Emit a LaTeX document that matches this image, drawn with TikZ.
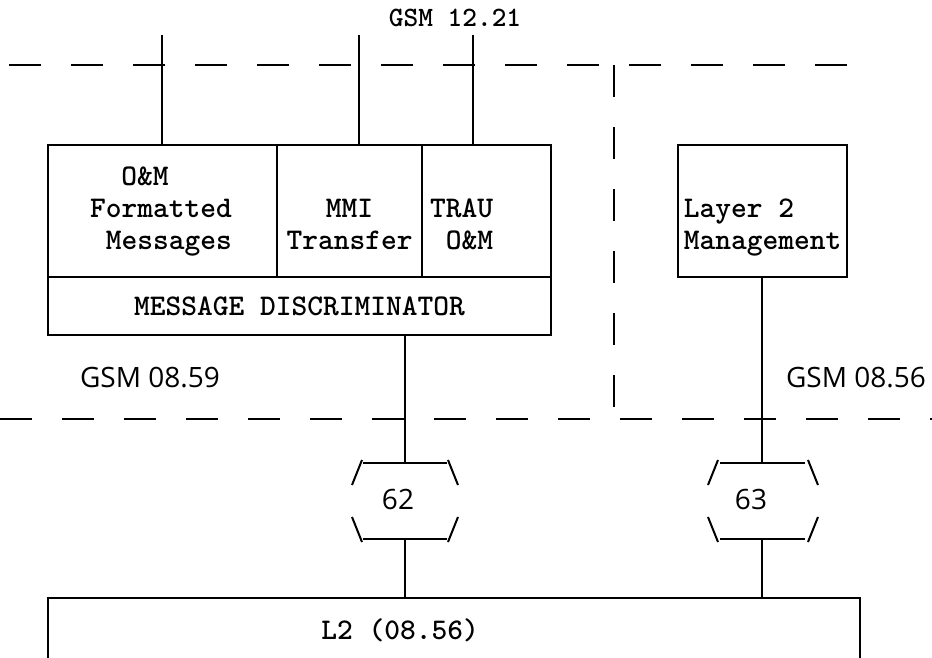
\documentclass[tikz,border=0pt]{standalone}
\usepackage{fontspec}
\newfontfamily\labelfont{Open Sans}
\usetikzlibrary{positioning}
\tikzstyle{cell} = [rectangle, draw, line width=1pt, outer sep=0pt, inner sep=0pt,
    minimum height=66pt, align=center, font=\fontsize{15}{16}\selectfont\ttfamily\bfseries]
\tikzstyle{band} = [cell, minimum height=29pt, minimum width=251.5pt]
\tikzstyle{boxtext} = [inner sep=0pt, font=\fontsize{15}{16}\selectfont\ttfamily\bfseries]
\tikzstyle{refno} = [inner sep=0pt, font=\fontsize{14}{16}\selectfont\labelfont]
\tikzstyle{boundary} = [line width=1pt, dash pattern=on 16pt off 15pt]
\tikzstyle{bar} = [line width=1.3pt]
\tikzstyle{line} = [draw, line width=1pt]

\begin{document}
\begin{tikzpicture}[x=0.5pt, y=-0.5pt]
    \useasboundingbox (0,0) rectangle (932,658);
    % Place nodes
    \node [cell, text width=72.5pt, inner xsep=21pt, align=left, anchor=north west] (om) at (48,145)
        {\strut\hphantom{OO}O\&M\\\strut Formatted\\\strut\hphantom{O}Messages};
    \node [cell, minimum width=72.5pt, right=0pt of om] (mmi) {\strut\\\strut MMI\\\strut Transfer};
    \node [cell, text width=56.5pt, inner xsep=4pt, align=left, right=0pt of mmi] (trau)
        {\strut\\\strut TRAU\\\strut\hphantom{T}O\&M};
    \node [band, anchor=north west] (disc) at (om.south west) {MESSAGE DISCRIMINATOR};
    \node [cell, minimum width=84.5pt, align=left, inner xsep=2pt, anchor=north west] (lm) at (678,145) {\strut\\\strut Layer 2\\\strut Management};
    \node [cell, minimum width=406pt, minimum height=60pt, anchor=north west] (l2) at (48,598) {};
    \node [boxtext] (l2name) at (400,630) {L2 (08.56)};
    \node [boxtext, font=\fontsize{14}{16}\selectfont\ttfamily\bfseries] (gsm1221) at (455,18) {GSM 12.21};
    \node [refno] (gsm0859) at (150,378) {GSM 08.59};
    \node [refno] (gsm0856) at (856,378) {GSM 08.56};
    \node [refno] (n62) at (398,499) {62};
    \node [refno] (n63) at (751,499) {63};
    \coordinate (u1) at (162,35);
    \coordinate (u2) at (359,35);
    \coordinate (u3) at (473,35);
    \coordinate (t62) at (405,463);
    \coordinate (b62) at (405,539);
    \coordinate (t63) at (762,463);
    \coordinate (b63) at (762,539);
    % domain boundaries
    \draw [boundary] (9,65) -- (856,65);
    \draw [boundary] (614,65) -- (614,419);
    \draw [boundary] (0,419) -- (932,419);
    % link brackets
    \begin{scope}[shift={(405,501)}]
        \draw [bar] (-42,-38) -- (42,-38);
        \draw [bar] (-42,38) -- (42,38);
        \draw [line] (-53,-16) -- (-43,-41);
        \draw [line] (53,-16) -- (43,-41);
        \draw [line] (-53,16) -- (-43,41);
        \draw [line] (53,16) -- (43,41);
    \end{scope}
    \begin{scope}[shift={(762,501)}]
        \draw [bar] (-42,-38) -- (43,-38);
        \draw [bar] (-42,38) -- (43,38);
        \draw [line] (-54,-16) -- (-44,-41);
        \draw [line] (56,-16) -- (46,-41);
        \draw [line] (-54,16) -- (-44,41);
        \draw [line] (56,16) -- (46,41);
    \end{scope}
    % lines
    \path [line] (u1) -- (u1 |- om.north);
    \path [line] (u2) -- (u2 |- mmi.north);
    \path [line] (u3) -- (u3 |- trau.north);
    \path [line] (t62 |- disc.south) -- (t62);
    \path [line] (b62) -- (b62 |- l2.north);
    \path [line] (t63 |- lm.south) -- (t63);
    \path [line] (b63) -- (b63 |- l2.north);
\end{tikzpicture}
\end{document}
